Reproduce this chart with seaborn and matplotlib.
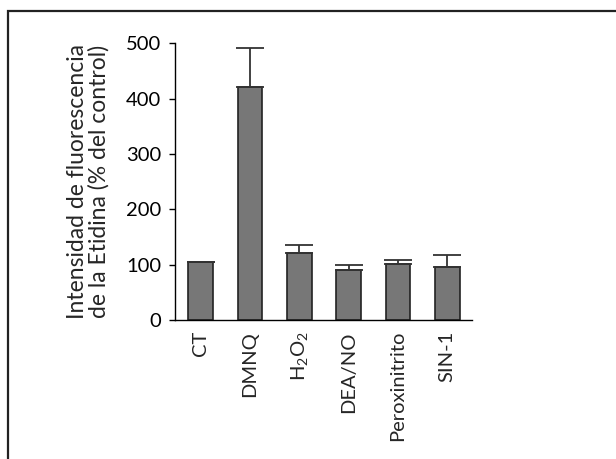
import matplotlib
matplotlib.use('Agg')
import matplotlib.pyplot as plt
from matplotlib.patches import Rectangle
import seaborn as sns

# values
categories = ['CT', 'DMNQ', r'H$\mathregular{_2}$O$\mathregular{_2}$', 'DEA/NO', 'Peroxinitrito', 'SIN-1']
means = [104, 420, 120, 91, 101, 96]
errors = [0, 72, 16, 9, 7, 21]
yticks = [0, 100, 200, 300, 400, 500]

sns.set_style('ticks')
plt.rcParams['font.family'] = ['Lato', 'DejaVu Sans']
plt.rcParams['mathtext.fontset'] = 'custom'
plt.rcParams['mathtext.rm'] = 'Lato'

fig = plt.figure(figsize=(6.16, 4.59), dpi=100)
ax = fig.add_axes([0.284, 0.303, 0.482, 0.603])

pos = list(range(len(categories)))
sns.barplot(x=pos, y=means, color='#777777', saturation=1, width=0.5,
            edgecolor='#222222', linewidth=1.2, ax=ax, native_scale=True)
ax.errorbar(pos, means, yerr=[[0] * len(errors), errors], fmt='none',
            ecolor='#333333', elinewidth=1.3, capsize=10, capthick=1.3)

ax.set_xlim(-0.52, 5.5)
ax.set_ylim(0, 500)
ax.set_yticks(yticks)
ax.set_xticks(pos)
ax.set_xticklabels(categories, rotation=90, fontsize=14.5)
ax.tick_params(axis='x', length=0, pad=8)
ax.tick_params(axis='y', length=4, width=1, labelsize=14.5, pad=6, colors='black')
ax.set_ylabel('Intensidad de fluorescencia\nde la Etidina (% del control)',
              fontsize=16.5, labelpad=12, linespacing=1.0)
for s in ['top', 'right']:
    ax.spines[s].set_visible(False)
for s in ['left', 'bottom']:
    ax.spines[s].set_color('black')
    ax.spines[s].set_linewidth(1)

# frame around the figure (only top and left edges visible)
fig.patches.append(Rectangle((0.013, -0.2), 1.2, 0.2 + 0.976, transform=fig.transFigure,
                             fill=False, edgecolor='#222222', linewidth=1.6))

fig.savefig('out.png', dpi=100)
